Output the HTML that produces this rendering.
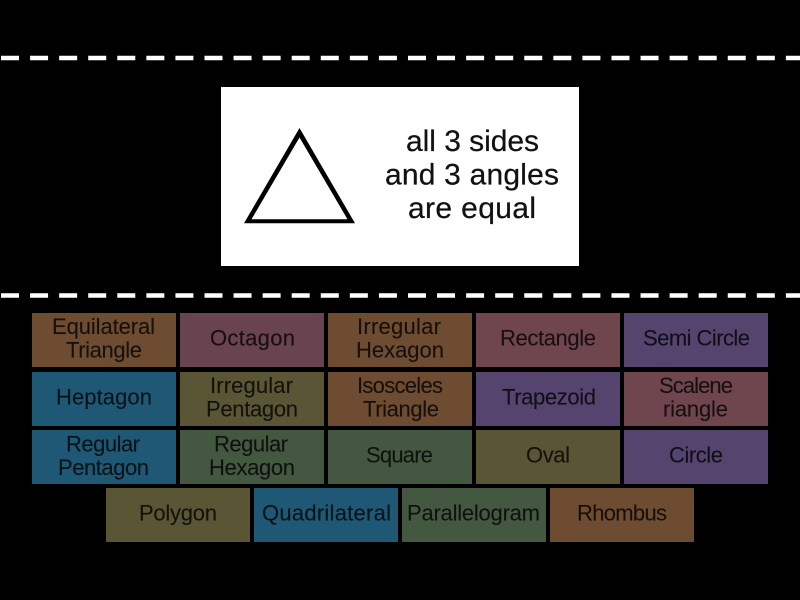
<!DOCTYPE html>
<html>
<head>
<meta charset="utf-8">
<style>
html,body{margin:0;padding:0;background:#000;width:800px;height:600px;overflow:hidden}
svg{display:block}
text{font-family:"Liberation Sans",sans-serif}
.t text{font-size:22px;fill:#000;fill-opacity:.78;stroke:#000;stroke-opacity:.3;stroke-width:.25;text-anchor:start}
.m text{font-size:30px;fill:#111;stroke:#111;stroke-width:.25}
</style>
</head>
<body>
<svg width="800" height="600" viewBox="0 0 800 600" xmlns="http://www.w3.org/2000/svg">
<rect width="800" height="600" fill="#000"/>
<path d="M1 58H800M1 295.5H800" stroke="#fff" stroke-width="4.5" stroke-dasharray="18 11.07" fill="none"/>
<rect x="221" y="87" width="358" height="179" fill="#fff"/>
<path fill-rule="evenodd" fill="#000" d="M299.5 128L244 223.3H355ZM299.5 137.5L251.5 219.3H347.5Z"/>
<g class="m">
<text x="406" y="151" textLength="133" lengthAdjust="spacing">all 3 sides</text>
<text x="385" y="184.5" textLength="174" lengthAdjust="spacing">and 3 angles</text>
<text x="408" y="218" textLength="128" lengthAdjust="spacing">are equal</text>
</g>
<g>
<rect x="32" y="313" width="144" height="54" fill="#6d4c31"/>
<rect x="180" y="313" width="144" height="54" fill="#69434f"/>
<rect x="328" y="313" width="144" height="54" fill="#6d4c31"/>
<rect x="476" y="313" width="144" height="54" fill="#70464e"/>
<rect x="624" y="313" width="144" height="54" fill="#54446e"/>
<rect x="32" y="372" width="144" height="54" fill="#1e5874"/>
<rect x="180" y="372" width="144" height="54" fill="#595535"/>
<rect x="328" y="372" width="144" height="54" fill="#6d4c31"/>
<rect x="476" y="372" width="144" height="54" fill="#54446e"/>
<rect x="624" y="372" width="144" height="54" fill="#70464e"/>
<rect x="32" y="430" width="144" height="54" fill="#1e5874"/>
<rect x="180" y="430" width="144" height="54" fill="#445741"/>
<rect x="328" y="430" width="144" height="54" fill="#445741"/>
<rect x="476" y="430" width="144" height="54" fill="#595535"/>
<rect x="624" y="430" width="144" height="54" fill="#54446e"/>
<rect x="106" y="488" width="144" height="54" fill="#595535"/>
<rect x="254" y="488" width="144" height="54" fill="#1e5874"/>
<rect x="402" y="488" width="144" height="54" fill="#445741"/>
<rect x="550" y="488" width="144" height="54" fill="#6d4c31"/>
</g>
<g class="t">
<text x="52" y="334" textLength="103">Equilateral</text>
<text x="66" y="357.5" textLength="76">Triangle</text>
<text x="210" y="345.5" textLength="85">Octagon</text>
<text x="357" y="334" textLength="84">Irregular</text>
<text x="356" y="357.5" textLength="88">Hexagon</text>
<text x="500" y="345.5" textLength="96">Rectangle</text>
<text x="643" y="345.5" textLength="107">Semi Circle</text>
<text x="56" y="404.5" textLength="96">Heptagon</text>
<text x="210" y="393" textLength="83">Irregular</text>
<text x="206" y="416.5" textLength="92">Pentagon</text>
<text x="357" y="393" textLength="86">Isosceles</text>
<text x="363" y="416.5" textLength="76">Triangle</text>
<text x="502" y="404.5" textLength="94">Trapezoid</text>
<text x="659" y="393" textLength="74">Scalene</text>
<text x="663" y="416.5" textLength="65">riangle</text>
<text x="66" y="451.5" textLength="74">Regular</text>
<text x="58" y="475" textLength="91">Pentagon</text>
<text x="214" y="451.5" textLength="74">Regular</text>
<text x="209" y="475" textLength="86">Hexagon</text>
<text x="366" y="462.5" textLength="67">Square</text>
<text x="526" y="462.5" textLength="44">Oval</text>
<text x="669" y="462.5" textLength="54">Circle</text>
<text x="139" y="520.5" textLength="78">Polygon</text>
<text x="262" y="520.5" textLength="129">Quadrilateral</text>
<text x="407" y="520.5" textLength="133">Parallelogram</text>
<text x="577" y="520.5" textLength="90">Rhombus</text>
</g>
</svg>
</body>
</html>
